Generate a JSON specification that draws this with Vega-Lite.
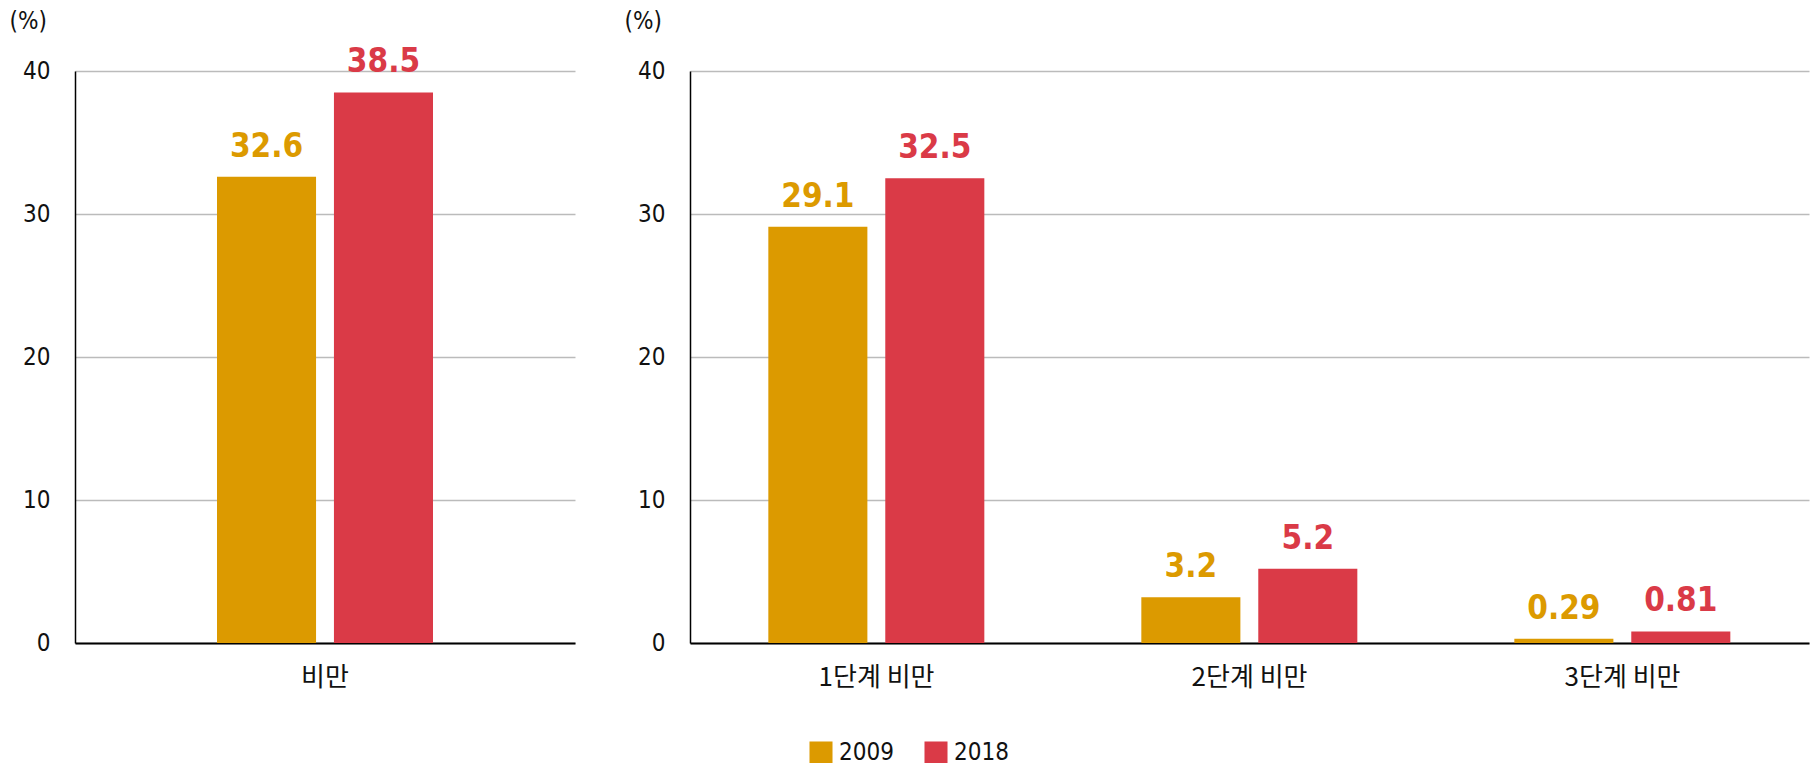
{
  "$schema": "https://vega.github.io/schema/vega-lite/v6.json",
  "padding": {"left": 9, "top": 9, "right": 5, "bottom": 0},
  "background": "white",
  "data": {"values": [
    {"panel": "A", "category": "비만", "year": "2009", "value": 32.6},
    {"panel": "A", "category": "비만", "year": "2018", "value": 38.5},
    {"panel": "B", "category": "1단계 비만", "year": "2009", "value": 29.1},
    {"panel": "B", "category": "1단계 비만", "year": "2018", "value": 32.5},
    {"panel": "B", "category": "2단계 비만", "year": "2009", "value": 3.2},
    {"panel": "B", "category": "2단계 비만", "year": "2018", "value": 5.2},
    {"panel": "B", "category": "3단계 비만", "year": "2009", "value": 0.29},
    {"panel": "B", "category": "3단계 비만", "year": "2018", "value": 0.81}
  ]},
  "spacing": 49,
  "hconcat": [
    {
      "width": 500,
      "height": 572,
      "transform": [{"filter": "datum.panel == 'A'"}],
      "encoding": {
        "x": {"field": "category", "type": "nominal", "sort": null, "scale": {"paddingInner": 0.568, "paddingOuter": 0.284}, "axis": {"title": null}},
        "xOffset": {"field": "year", "type": "nominal", "scale": {"paddingInner": 0.153, "paddingOuter": 0}},
        "y": {"field": "value", "type": "quantitative", "scale": {"domain": [0, 40], "nice": false}, "axis": {"values": [0, 10, 20, 30, 40], "title": "(%)"}},
        "color": {"field": "year", "type": "nominal", "scale": {"domain": ["2009", "2018"], "range": ["#DC9A00", "#DA3A47"]}, "legend": {"title": null}}
      },
      "layer": [
        {"mark": {"type": "bar"}},
        {"mark": {"type": "text", "baseline": "bottom", "dy": -13, "font": "DejaVu Sans Condensed", "fontWeight": "bold", "fontSize": 33}, "encoding": {"text": {"field": "value", "type": "quantitative"}}}
      ]
    },
    {
      "width": 1119,
      "height": 572,
      "transform": [{"filter": "datum.panel == 'B'"}],
      "encoding": {
        "x": {"field": "category", "type": "nominal", "sort": null, "scale": {"paddingInner": 0.42, "paddingOuter": 0.21}, "axis": {"title": null}},
        "xOffset": {"field": "year", "type": "nominal", "scale": {"paddingInner": 0.153, "paddingOuter": 0}},
        "y": {"field": "value", "type": "quantitative", "scale": {"domain": [0, 40], "nice": false}, "axis": {"values": [0, 10, 20, 30, 40], "title": "(%)"}},
        "color": {"field": "year", "type": "nominal", "scale": {"domain": ["2009", "2018"], "range": ["#DC9A00", "#DA3A47"]}, "legend": {"title": null}}
      },
      "layer": [
        {"mark": {"type": "bar"}},
        {"mark": {"type": "text", "baseline": "bottom", "dy": -13, "font": "DejaVu Sans Condensed", "fontWeight": "bold", "fontSize": 33}, "encoding": {"text": {"field": "value", "type": "quantitative"}}}
      ]
    }
  ],
  "config": {
    "view": {"stroke": null},
    "axis": {
      "grid": false,
      "ticks": false,
      "domainColor": "#000000",
      "labelColor": "#111111",
      "labelFont": "DejaVu Sans Condensed",
      "labelFontSize": 24
    },
    "axisX": {
      "labelAngle": 0,
      "domainWidth": 2,
      "labelFont": "Noto Sans CJK KR",
      "labelFontSize": 26,
      "labelPadding": 21
    },
    "axisY": {
      "grid": true,
      "gridColor": "#BBBBBB",
      "gridWidth": 1.5,
      "domainWidth": 1.5,
      "labelPadding": 25,
      "titleAngle": 0,
      "titleAlign": "left",
      "titleBaseline": "middle",
      "titleX": -66,
      "titleY": -50,
      "titleFont": "DejaVu Sans Condensed",
      "titleFontSize": 24,
      "titleFontWeight": "normal",
      "titleColor": "#111111"
    },
    "legend": {
      "orient": "bottom",
      "direction": "horizontal",
      "symbolType": "square",
      "symbolSize": 530,
      "symbolStrokeWidth": 0,
      "labelFont": "DejaVu Sans Condensed",
      "labelFontSize": 24,
      "labelColor": "#111111",
      "labelOffset": 6,
      "columnPadding": 30,
      "offset": 51,
      "layout": {"bottom": {"anchor": "middle"}}
    }
  }
}
